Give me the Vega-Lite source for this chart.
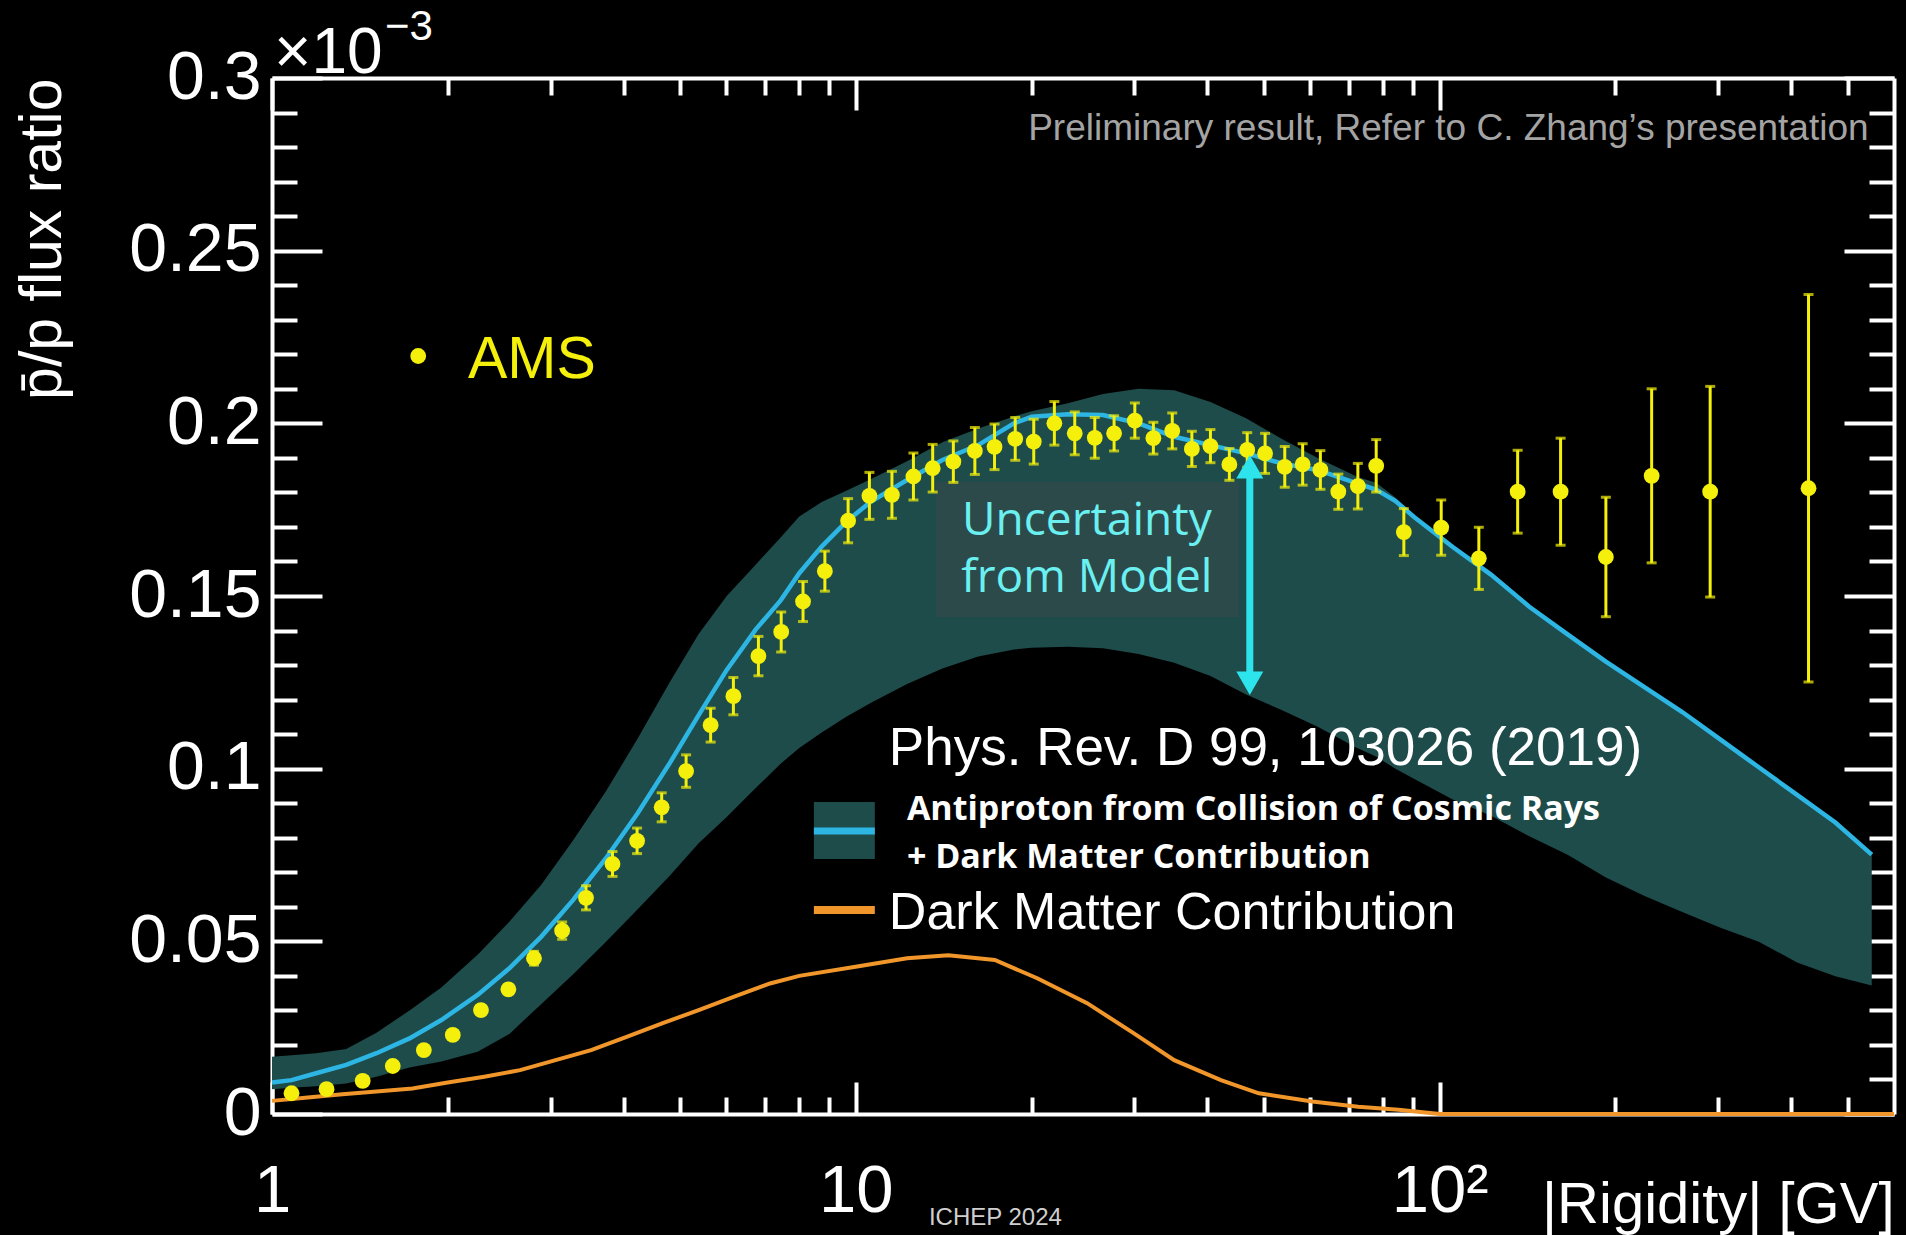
{
 "$schema": "https://vega.github.io/schema/vega-lite/v6.json",
 "width": 1622, "height": 1036,
 "autosize": {"type": "none"},
 "padding": {"left": 272, "top": 78, "right": 12, "bottom": 121},
 "background": "#000000",
 "config": {
  "view": {"stroke": null},
  "axis": {"grid": false, "tickColor": "#ffffff", "domainColor": "#ffffff", "tickWidth": 4, "domainWidth": 4,
           "labelColor": "#ffffff", "titleColor": "#ffffff", "labelFont": "Liberation Sans", "titleFont": "Liberation Sans",
           "titleFontWeight": "normal", "labelOverlap": false, "labelFlush": false, "labelBound": false}
 },
 "datasets": {
  "band": [
   {"R": 1.0, "lo": 0.0072, "mid": 0.0091, "hi": 0.0166},
   {"R": 1.08, "lo": 0.0076, "mid": 0.0098, "hi": 0.0170},
   {"R": 1.19, "lo": 0.0080, "mid": 0.0118, "hi": 0.0176},
   {"R": 1.34, "lo": 0.0088, "mid": 0.0142, "hi": 0.0188},
   {"R": 1.51, "lo": 0.0108, "mid": 0.0176, "hi": 0.0235},
   {"R": 1.72, "lo": 0.0135, "mid": 0.0219, "hi": 0.0300},
   {"R": 1.95, "lo": 0.0152, "mid": 0.0272, "hi": 0.0366},
   {"R": 2.25, "lo": 0.0180, "mid": 0.0345, "hi": 0.0461},
   {"R": 2.55, "lo": 0.0232, "mid": 0.0422, "hi": 0.0557},
   {"R": 2.89, "lo": 0.0318, "mid": 0.0513, "hi": 0.0663},
   {"R": 3.28, "lo": 0.0405, "mid": 0.0620, "hi": 0.0793},
   {"R": 3.73, "lo": 0.0498, "mid": 0.0740, "hi": 0.0934},
   {"R": 4.23, "lo": 0.0593, "mid": 0.0871, "hi": 0.1087},
   {"R": 4.80, "lo": 0.0690, "mid": 0.1016, "hi": 0.1250},
   {"R": 5.38, "lo": 0.0784, "mid": 0.1155, "hi": 0.1390},
   {"R": 6.01, "lo": 0.0860, "mid": 0.1286, "hi": 0.1500},
   {"R": 6.73, "lo": 0.0943, "mid": 0.1402, "hi": 0.1590},
   {"R": 7.44, "lo": 0.1015, "mid": 0.1488, "hi": 0.1670},
   {"R": 8.0, "lo": 0.1060, "mid": 0.1566, "hi": 0.1730},
   {"R": 8.74, "lo": 0.1105, "mid": 0.1643, "hi": 0.1772},
   {"R": 9.63, "lo": 0.1150, "mid": 0.1715, "hi": 0.1805},
   {"R": 10.6, "lo": 0.1190, "mid": 0.1773, "hi": 0.1838},
   {"R": 12.24, "lo": 0.1245, "mid": 0.1836, "hi": 0.1890},
   {"R": 14.07, "lo": 0.1290, "mid": 0.1894, "hi": 0.1945},
   {"R": 16.2, "lo": 0.1325, "mid": 0.1937, "hi": 0.1985},
   {"R": 18.66, "lo": 0.1345, "mid": 0.2000, "hi": 0.2020},
   {"R": 20.0, "lo": 0.1350, "mid": 0.2019, "hi": 0.2035},
   {"R": 23.07, "lo": 0.1353, "mid": 0.2026, "hi": 0.2058},
   {"R": 26.5, "lo": 0.1349, "mid": 0.2024, "hi": 0.2085},
   {"R": 30.5, "lo": 0.1332, "mid": 0.2000, "hi": 0.2100},
   {"R": 35.1, "lo": 0.1307, "mid": 0.1961, "hi": 0.2096},
   {"R": 40.5, "lo": 0.1268, "mid": 0.1937, "hi": 0.2062},
   {"R": 46.6, "lo": 0.1215, "mid": 0.1913, "hi": 0.2015},
   {"R": 53.6, "lo": 0.1170, "mid": 0.1884, "hi": 0.1955},
   {"R": 61.7, "lo": 0.1122, "mid": 0.1865, "hi": 0.1900},
   {"R": 72.2, "lo": 0.1060, "mid": 0.1826, "hi": 0.1845},
   {"R": 77.8, "lo": 0.1035, "mid": 0.1808, "hi": 0.1828},
   {"R": 84.0, "lo": 0.1000, "mid": 0.1775, "hi": 0.1785},
   {"R": 90.5, "lo": 0.0970, "mid": 0.1728, "hi": 0.1728},
   {"R": 105.3, "lo": 0.0911, "mid": 0.1642, "hi": 0.1642},
   {"R": 122.4, "lo": 0.0864, "mid": 0.1562, "hi": 0.1562},
   {"R": 142.4, "lo": 0.0804, "mid": 0.1469, "hi": 0.1469},
   {"R": 165.6, "lo": 0.0751, "mid": 0.1389, "hi": 0.1389},
   {"R": 192.6, "lo": 0.0685, "mid": 0.1310, "hi": 0.1310},
   {"R": 223.9, "lo": 0.0632, "mid": 0.1237, "hi": 0.1237},
   {"R": 260.3, "lo": 0.0585, "mid": 0.1164, "hi": 0.1164},
   {"R": 302.7, "lo": 0.0539, "mid": 0.1084, "hi": 0.1084},
   {"R": 352.0, "lo": 0.0499, "mid": 0.1004, "hi": 0.1004},
   {"R": 409.4, "lo": 0.0439, "mid": 0.0924, "hi": 0.0924},
   {"R": 476.1, "lo": 0.0399, "mid": 0.0844, "hi": 0.0844},
   {"R": 549.6, "lo": 0.0372, "mid": 0.0751, "hi": 0.0751}
  ],
  "dm": [
   {"R": 1.0, "v": 0.0038}, {"R": 1.14, "v": 0.0047}, {"R": 1.32, "v": 0.0057}, {"R": 1.51, "v": 0.0065},
   {"R": 1.74, "v": 0.0074}, {"R": 2.0, "v": 0.0091}, {"R": 2.31, "v": 0.0108}, {"R": 2.66, "v": 0.0127},
   {"R": 3.06, "v": 0.0156}, {"R": 3.52, "v": 0.0185}, {"R": 4.06, "v": 0.0224}, {"R": 4.67, "v": 0.0263},
   {"R": 5.38, "v": 0.0301}, {"R": 6.19, "v": 0.0340}, {"R": 7.13, "v": 0.0378}, {"R": 8.0, "v": 0.0400},
   {"R": 10.05, "v": 0.0427}, {"R": 12.24, "v": 0.0451}, {"R": 14.4, "v": 0.0460}, {"R": 17.3, "v": 0.0446},
   {"R": 20.45, "v": 0.0393}, {"R": 24.9, "v": 0.0321}, {"R": 29.9, "v": 0.0234}, {"R": 35.1, "v": 0.0156},
   {"R": 42.2, "v": 0.0098}, {"R": 49.0, "v": 0.0060}, {"R": 60.5, "v": 0.0036}, {"R": 72.5, "v": 0.0021},
   {"R": 85.0, "v": 0.0012}, {"R": 100.0, "v": 0.0}, {"R": 600.0, "v": 0.0}
  ],
  "ams": [
   {"R": 1.08, "v": 0.0060, "e": 0.0006}, {"R": 1.24, "v": 0.0072, "e": 0.0006}, {"R": 1.43, "v": 0.0096, "e": 0.0007},
   {"R": 1.61, "v": 0.0139, "e": 0.0008}, {"R": 1.82, "v": 0.0185, "e": 0.0009}, {"R": 2.04, "v": 0.0229, "e": 0.0010},
   {"R": 2.28, "v": 0.0301, "e": 0.0011}, {"R": 2.54, "v": 0.0361, "e": 0.0012}, {"R": 2.81, "v": 0.0451, "e": 0.0020},
   {"R": 3.14, "v": 0.0531, "e": 0.0025}, {"R": 3.45, "v": 0.0626, "e": 0.0035}, {"R": 3.83, "v": 0.0724, "e": 0.0036},
   {"R": 4.22, "v": 0.0791, "e": 0.0037}, {"R": 4.65, "v": 0.0888, "e": 0.0042}, {"R": 5.12, "v": 0.0993, "e": 0.0047},
   {"R": 5.64, "v": 0.1126, "e": 0.0049}, {"R": 6.17, "v": 0.1210, "e": 0.0054}, {"R": 6.81, "v": 0.1326, "e": 0.0057},
   {"R": 7.45, "v": 0.1396, "e": 0.0058}, {"R": 8.12, "v": 0.1484, "e": 0.0058}, {"R": 8.85, "v": 0.1572, "e": 0.0058},
   {"R": 9.70, "v": 0.1718, "e": 0.0064}, {"R": 10.55, "v": 0.1790, "e": 0.0068}, {"R": 11.53, "v": 0.1793, "e": 0.0068},
   {"R": 12.55, "v": 0.1846, "e": 0.0068}, {"R": 13.54, "v": 0.1870, "e": 0.0069}, {"R": 14.69, "v": 0.1889, "e": 0.0060},
   {"R": 15.99, "v": 0.1920, "e": 0.0068}, {"R": 17.28, "v": 0.1932, "e": 0.0066}, {"R": 18.75, "v": 0.1955, "e": 0.0062},
   {"R": 20.17, "v": 0.1947, "e": 0.0065}, {"R": 21.88, "v": 0.2000, "e": 0.0063}, {"R": 23.71, "v": 0.1971, "e": 0.0062},
   {"R": 25.66, "v": 0.1958, "e": 0.0059}, {"R": 27.69, "v": 0.1971, "e": 0.0051}, {"R": 30.05, "v": 0.2008, "e": 0.0051},
   {"R": 32.33, "v": 0.1957, "e": 0.0046}, {"R": 34.83, "v": 0.1978, "e": 0.0052}, {"R": 37.63, "v": 0.1926, "e": 0.0051},
   {"R": 40.49, "v": 0.1934, "e": 0.0048}, {"R": 43.63, "v": 0.1881, "e": 0.0046}, {"R": 46.81, "v": 0.1923, "e": 0.0050},
   {"R": 50.23, "v": 0.1913, "e": 0.0058}, {"R": 54.28, "v": 0.1874, "e": 0.0059}, {"R": 58.25, "v": 0.1881, "e": 0.0060},
   {"R": 62.47, "v": 0.1865, "e": 0.0056}, {"R": 67.04, "v": 0.1802, "e": 0.0051}, {"R": 72.42, "v": 0.1818, "e": 0.0066},
   {"R": 77.85, "v": 0.1877, "e": 0.0076}, {"R": 86.82, "v": 0.1685, "e": 0.0068}, {"R": 100.6, "v": 0.1698, "e": 0.0080},
   {"R": 116.7, "v": 0.1609, "e": 0.0090}, {"R": 136.0, "v": 0.1802, "e": 0.0120}, {"R": 161.1, "v": 0.1802, "e": 0.0155},
   {"R": 192.6, "v": 0.1613, "e": 0.0173}, {"R": 230.7, "v": 0.1848, "e": 0.0252}, {"R": 290.6, "v": 0.1802, "e": 0.0305},
   {"R": 428.3, "v": 0.1812, "e": 0.0561}
  ]
 },
 "resolve": {"axis": {"x": "independent", "y": "independent"}},
 "layer": [
  {
   "data": {"name": "band"},
   "mark": {"type": "area", "color": "#1d4c4b", "opacity": 1},
   "encoding": {
    "x": {"field": "R", "type": "quantitative", "scale": {"type": "log", "domain": [1, 600], "nice": false},
          "axis": {"orient": "bottom", "values": [1, 10, 100], "tickSize": -32, "labelFontSize": 67, "labelPadding": 76,
                   "labelExpr": "datum.value == 100 ? '10²' : (datum.value == 10 ? '10' : '1')",
                   "title": "|Rigidity| [GV]", "titleFontSize": 58, "titleAnchor": "end", "titleAlign": "right",
                   "titleBaseline": "alphabetic", "titleX": 1622, "titleY": 108}},
    "y": {"field": "lo", "type": "quantitative", "scale": {"domain": [0, 0.3], "nice": false, "zero": false},
          "axis": {"orient": "left", "values": [0, 0.05, 0.1, 0.15, 0.2, 0.25, 0.3], "tickSize": -50, "labelFontSize": 68,
                   "labelPadding": 61, "format": "~g",
                   "title": "p̄/p flux ratio", "titleFontSize": 59, "titleAngle": 270, "titleX": -230, "titleY": 0,
                   "titleAlign": "right", "titleBaseline": "middle"}},
    "y2": {"field": "hi"}
   }
  },
  {
   "data": {"values": [{}]},
   "mark": {"type": "rect", "color": "#2d4a4b", "opacity": 1},
   "encoding": {
    "x": {"datum": 13.71, "type": "quantitative", "scale": {"type": "log", "domain": [1, 600], "nice": false}, "axis": null},
    "x2": {"datum": 45.27},
    "y": {"datum": 0.18301, "type": "quantitative", "scale": {"domain": [0, 0.3], "nice": false, "zero": false}, "axis": null},
    "y2": {"datum": 0.14392}
   }
  },
  {
   "data": {"name": "dm"},
   "mark": {"type": "line", "color": "#f0962a", "strokeWidth": 4},
   "encoding": {
    "x": {"field": "R", "type": "quantitative", "scale": {"type": "log", "domain": [1, 600], "nice": false},
          "axis": {"orient": "bottom", "values": [2, 3, 4, 5, 6, 7, 8, 9, 20, 30, 40, 50, 60, 70, 80, 90, 200, 300, 400, 500],
                   "tickSize": -17, "labels": false, "domain": false, "title": null}},
    "y": {"field": "v", "type": "quantitative", "scale": {"domain": [0, 0.3], "nice": false, "zero": false},
          "axis": {"orient": "left", "values": [0.01, 0.02, 0.03, 0.04, 0.06, 0.07, 0.08, 0.09, 0.11, 0.12, 0.13, 0.14, 0.16, 0.17, 0.18, 0.19, 0.21, 0.22, 0.23, 0.24, 0.26, 0.27, 0.28, 0.29],
                   "tickSize": -25, "labels": false, "domain": false, "title": null}}
   }
  },
  {
   "data": {"name": "band"},
   "mark": {"type": "line", "color": "#2db5e4", "strokeWidth": 4.5},
   "encoding": {
    "x": {"field": "R", "type": "quantitative", "scale": {"type": "log", "domain": [1, 600], "nice": false},
          "axis": {"orient": "top", "values": [1, 10, 100], "tickSize": -32, "labels": false, "domain": true, "title": null}},
    "y": {"field": "mid", "type": "quantitative", "scale": {"domain": [0, 0.3], "nice": false, "zero": false},
          "axis": {"orient": "right", "values": [0, 0.05, 0.1, 0.15, 0.2, 0.25, 0.3], "tickSize": -50, "labels": false, "domain": true, "title": null}}
   }
  },
  {
   "data": {"name": "ams"},
   "mark": {"type": "errorbar", "color": "#f4f00c", "ticks": {"size": 10, "thickness": 3}, "rule": {"strokeWidth": 3}},
   "encoding": {
    "x": {"field": "R", "type": "quantitative", "scale": {"type": "log", "domain": [1, 600], "nice": false}, "axis": null},
    "y": {"field": "v", "type": "quantitative", "scale": {"domain": [0, 0.3], "nice": false, "zero": false}, "axis": null},
    "yError": {"field": "e"}
   }
  },
  {
   "data": {"name": "ams"},
   "mark": {"type": "point", "filled": true, "size": 250, "color": "#f4f00c", "opacity": 1},
   "encoding": {
    "x": {"field": "R", "type": "quantitative", "scale": {"type": "log", "domain": [1, 600], "nice": false},
          "axis": {"orient": "top", "values": [2, 3, 4, 5, 6, 7, 8, 9, 20, 30, 40, 50, 60, 70, 80, 90, 200, 300, 400, 500],
                   "tickSize": -17, "labels": false, "domain": false, "title": null}},
    "y": {"field": "v", "type": "quantitative", "scale": {"domain": [0, 0.3], "nice": false, "zero": false},
          "axis": {"orient": "right", "values": [0.01, 0.02, 0.03, 0.04, 0.06, 0.07, 0.08, 0.09, 0.11, 0.12, 0.13, 0.14, 0.16, 0.17, 0.18, 0.19, 0.21, 0.22, 0.23, 0.24, 0.26, 0.27, 0.28, 0.29],
                   "tickSize": -25, "labels": false, "domain": false, "title": null}}
   }
  },
  {
   "data": {"values": [{}]},
   "mark": {"type": "rule", "color": "#2ee4ec", "strokeWidth": 7},
   "encoding": {
    "x": {"datum": 47.29, "type": "quantitative", "scale": {"type": "log", "domain": [1, 600], "nice": false}, "axis": null},
    "y": {"datum": 0.18649, "type": "quantitative", "scale": {"domain": [0, 0.3], "nice": false, "zero": false}, "axis": null},
    "y2": {"datum": 0.12568}
   }
  },
  {
   "data": {"values": [{}]},
   "mark": {"type": "point", "shape": "triangle-up", "filled": true, "size": 729, "color": "#2ee4ec", "opacity": 1},
   "encoding": {
    "x": {"datum": 47.29, "type": "quantitative", "scale": {"type": "log", "domain": [1, 600], "nice": false}, "axis": null},
    "y": {"datum": 0.18744, "type": "quantitative", "scale": {"domain": [0, 0.3], "nice": false, "zero": false}, "axis": null}
   }
  },
  {
   "data": {"values": [{}]},
   "mark": {"type": "point", "shape": "triangle-down", "filled": true, "size": 729, "color": "#2ee4ec", "opacity": 1},
   "encoding": {
    "x": {"datum": 47.29, "type": "quantitative", "scale": {"type": "log", "domain": [1, 600], "nice": false}, "axis": null},
    "y": {"datum": 0.12472, "type": "quantitative", "scale": {"domain": [0, 0.3], "nice": false, "zero": false}, "axis": null}
   }
  },
  {
   "data": {"values": [{}]},
   "mark": {"type": "text", "text": "Uncertainty", "font": "Open Sans", "fontSize": 46,
            "color": "#6af0f0", "align": "center", "baseline": "alphabetic"},
   "encoding": {
    "x": {"datum": 24.87, "type": "quantitative", "scale": {"type": "log", "domain": [1, 600], "nice": false}, "axis": null},
    "y": {"datum": 0.16766, "type": "quantitative", "scale": {"domain": [0, 0.3], "nice": false, "zero": false}, "axis": null}
   }
  },
  {
   "data": {"values": [{}]},
   "mark": {"type": "text", "text": "from Model", "font": "Open Sans", "fontSize": 46,
            "color": "#6af0f0", "align": "center", "baseline": "alphabetic"},
   "encoding": {
    "x": {"datum": 24.87, "type": "quantitative", "scale": {"type": "log", "domain": [1, 600], "nice": false}, "axis": null},
    "y": {"datum": 0.15116, "type": "quantitative", "scale": {"domain": [0, 0.3], "nice": false, "zero": false}, "axis": null}
   }
  },
  {
   "data": {"values": [{}]},
   "mark": {"type": "text", "text": "×10", "font": "Liberation Sans", "fontSize": 64, "color": "#ffffff", "align": "left", "baseline": "alphabetic"},
   "encoding": {
    "x": {"datum": 1.008, "type": "quantitative", "scale": {"type": "log", "domain": [1, 600], "nice": false}, "axis": null},
    "y": {"datum": 0.3014, "type": "quantitative", "scale": {"domain": [0, 0.3], "nice": false, "zero": false}, "axis": null}
   }
  },
  {
   "data": {"values": [{}]},
   "mark": {"type": "text", "text": "−3", "font": "Liberation Sans", "fontSize": 42, "color": "#ffffff", "align": "left", "baseline": "alphabetic"},
   "encoding": {
    "x": {"datum": 1.562, "type": "quantitative", "scale": {"type": "log", "domain": [1, 600], "nice": false}, "axis": null},
    "y": {"datum": 0.3110, "type": "quantitative", "scale": {"domain": [0, 0.3], "nice": false, "zero": false}, "axis": null}
   }
  },
  {
   "data": {"values": [{}]},
   "mark": {"type": "point", "filled": true, "size": 250, "color": "#f4f00c", "opacity": 1},
   "encoding": {
    "x": {"datum": 1.78, "type": "quantitative", "scale": {"type": "log", "domain": [1, 600], "nice": false}, "axis": null},
    "y": {"datum": 0.2195, "type": "quantitative", "scale": {"domain": [0, 0.3], "nice": false, "zero": false}, "axis": null}
   }
  },
  {
   "data": {"values": [{}]},
   "mark": {"type": "text", "text": "AMS", "font": "Liberation Sans", "fontSize": 59, "color": "#f4f00c", "align": "left", "baseline": "alphabetic"},
   "encoding": {
    "x": {"datum": 2.166, "type": "quantitative", "scale": {"type": "log", "domain": [1, 600], "nice": false}, "axis": null},
    "y": {"datum": 0.2131, "type": "quantitative", "scale": {"domain": [0, 0.3], "nice": false, "zero": false}, "axis": null}
   }
  },
  {
   "data": {"values": [{}]},
   "mark": {"type": "text", "text": "Preliminary result, Refer to C. Zhang’s presentation", "font": "Liberation Sans", "fontSize": 37,
            "color": "#a4a4a4", "align": "right", "baseline": "alphabetic"},
   "encoding": {
    "x": {"datum": 542.8, "type": "quantitative", "scale": {"type": "log", "domain": [1, 600], "nice": false}, "axis": null},
    "y": {"datum": 0.28205, "type": "quantitative", "scale": {"domain": [0, 0.3], "nice": false, "zero": false}, "axis": null}
   }
  },
  {
   "data": {"values": [{}]},
   "mark": {"type": "text", "text": "Phys. Rev. D 99, 103026 (2019)", "font": "Liberation Sans", "fontSize": 53, "color": "#ffffff", "align": "left", "baseline": "alphabetic"},
   "encoding": {
    "x": {"datum": 11.391, "type": "quantitative", "scale": {"type": "log", "domain": [1, 600], "nice": false}, "axis": null},
    "y": {"datum": 0.10106, "type": "quantitative", "scale": {"domain": [0, 0.3], "nice": false, "zero": false}, "axis": null}
   }
  },
  {
   "data": {"values": [{}]},
   "mark": {"type": "rect", "color": "#1d4c4b", "opacity": 1},
   "encoding": {
    "x": {"datum": 8.475, "type": "quantitative", "scale": {"type": "log", "domain": [1, 600], "nice": false}, "axis": null},
    "x2": {"datum": 10.778},
    "y": {"datum": 0.09035, "type": "quantitative", "scale": {"domain": [0, 0.3], "nice": false, "zero": false}, "axis": null},
    "y2": {"datum": 0.07384}
   }
  },
  {
   "data": {"values": [{}]},
   "mark": {"type": "rule", "color": "#2db5e4", "strokeWidth": 7},
   "encoding": {
    "x": {"datum": 8.475, "type": "quantitative", "scale": {"type": "log", "domain": [1, 600], "nice": false}, "axis": null},
    "x2": {"datum": 10.778},
    "y": {"datum": 0.08195, "type": "quantitative", "scale": {"domain": [0, 0.3], "nice": false, "zero": false}, "axis": null}
   }
  },
  {
   "data": {"values": [{}]},
   "mark": {"type": "text", "text": "Antiproton from Collision of Cosmic Rays", "font": "Open Sans",
            "fontWeight": "bold", "fontSize": 34, "color": "#ffffff", "align": "left", "baseline": "alphabetic"},
   "encoding": {
    "x": {"datum": 12.23, "type": "quantitative", "scale": {"type": "log", "domain": [1, 600], "nice": false}, "axis": null},
    "y": {"datum": 0.08514, "type": "quantitative", "scale": {"domain": [0, 0.3], "nice": false, "zero": false}, "axis": null}
   }
  },
  {
   "data": {"values": [{}]},
   "mark": {"type": "text", "text": "+ Dark Matter Contribution", "font": "Open Sans",
            "fontWeight": "bold", "fontSize": 34, "color": "#ffffff", "align": "left", "baseline": "alphabetic"},
   "encoding": {
    "x": {"datum": 12.23, "type": "quantitative", "scale": {"type": "log", "domain": [1, 600], "nice": false}, "axis": null},
    "y": {"datum": 0.07124, "type": "quantitative", "scale": {"domain": [0, 0.3], "nice": false, "zero": false}, "axis": null}
   }
  },
  {
   "data": {"values": [{}]},
   "mark": {"type": "rule", "color": "#f0962a", "strokeWidth": 8},
   "encoding": {
    "x": {"datum": 8.475, "type": "quantitative", "scale": {"type": "log", "domain": [1, 600], "nice": false}, "axis": null},
    "x2": {"datum": 10.778},
    "y": {"datum": 0.05907, "type": "quantitative", "scale": {"domain": [0, 0.3], "nice": false, "zero": false}, "axis": null}
   }
  },
  {
   "data": {"values": [{}]},
   "mark": {"type": "text", "text": "Dark Matter Contribution", "font": "Liberation Sans", "fontSize": 52, "color": "#ffffff", "align": "left", "baseline": "alphabetic"},
   "encoding": {
    "x": {"datum": 11.391, "type": "quantitative", "scale": {"type": "log", "domain": [1, 600], "nice": false}, "axis": null},
    "y": {"datum": 0.05357, "type": "quantitative", "scale": {"domain": [0, 0.3], "nice": false, "zero": false}, "axis": null}
   }
  },
  {
   "data": {"values": [{}]},
   "mark": {"type": "text", "text": "ICHEP  2024", "font": "Liberation Sans", "fontSize": 24, "color": "#cfcfcf", "align": "left", "baseline": "alphabetic"},
   "encoding": {
    "x": {"datum": 13.34, "type": "quantitative", "scale": {"type": "log", "domain": [1, 600], "nice": false}, "axis": null},
    "y": {"datum": -0.0322, "type": "quantitative", "scale": {"domain": [0, 0.3], "nice": false, "zero": false}, "axis": null}
   }
  }
 ]
}
